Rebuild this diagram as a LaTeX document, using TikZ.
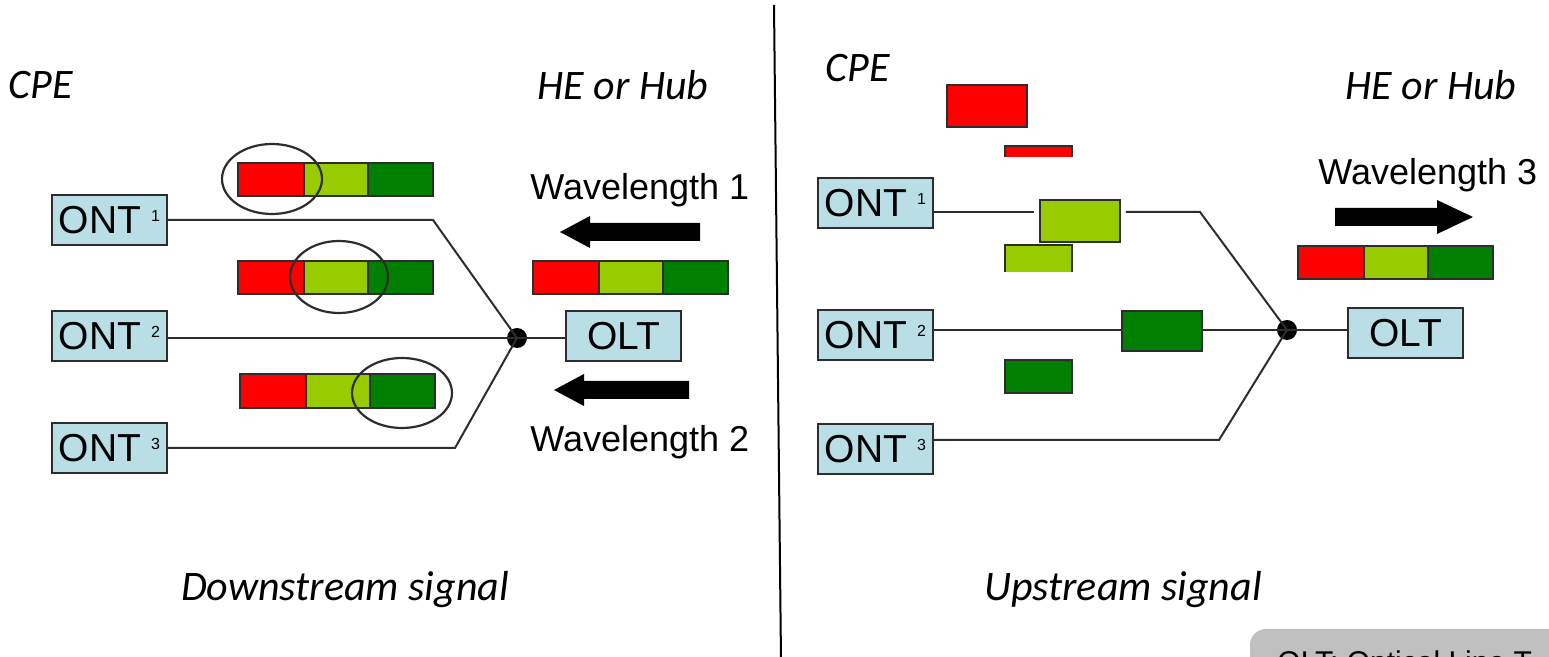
\documentclass[tikz,border=0pt]{standalone}
\usepackage{fontspec}
\setmainfont{Liberation Sans}
\newfontfamily\calibri{Carlito}
\definecolor{cred}{RGB}{255,0,0}
\definecolor{clight}{RGB}{153,204,0}
\definecolor{cdark}{RGB}{0,128,0}
\definecolor{cbox}{RGB}{185,222,230}
\definecolor{cline}{RGB}{45,45,45}
\definecolor{cgrey}{RGB}{192,192,192}
\tikzset{
  unit/.style={draw=cline,line width=0.9pt,fill=cbox,inner sep=0pt,minimum width=57.5pt,minimum height=25pt,font=\fontsize{19.5}{21}\selectfont},
  wire/.style={draw=cline,line width=1pt},
  blk/.style={draw=cline,line width=0.9pt},
  ring/.style={draw=cline,line width=1.1pt},
  cal/.style={font=\calibri\itshape\fontsize{21}{24}\selectfont,inner sep=0pt},
  wl/.style={font=\fontsize{18}{20}\selectfont,inner sep=0pt},
  dotn/.style={circle,fill=black,inner sep=0pt,minimum size=10pt}
}
\newcommand{\ontlabel}[1]{ONT\hspace{5pt}\raisebox{6pt}{\fontsize{8}{9}\selectfont #1}}
\newcommand{\cbar}[3]{% x-left, y-top, y-bottom ; width 195
  \fill[cred] (#1,#2) rectangle ++(66,#3-#2);
  \fill[clight] (#1+66,#2) rectangle ++(64,#3-#2);
  \fill[cdark] (#1+130,#2) rectangle ++(65,#3-#2);
  \draw[blk] (#1,#2) rectangle ++(195,#3-#2);
  \draw[blk] (#1+66,#2) -- (#1+66,#3) (#1+130,#2) -- (#1+130,#3);
}
\begin{document}
\begin{tikzpicture}[x=0.5pt,y=-0.5pt]
\useasboundingbox (0,0) rectangle (1549,657);
\clip (0,0) rectangle (1549,657);

% divider
\draw[line width=1pt,black] (774,5) -- (781,660);

% ================= LEFT PANEL =================
\node[cal,anchor=west] (cpeL) at (8,85) {CPE};
\node[cal,anchor=west] (heL) at (537,85) {HE or Hub};
\node[cal] (downL) at (345,590) {Downstream signal};

\node[unit] (ont1L) at (109.5,220) {\ontlabel{1}};
\node[unit] (ont2L) at (109.5,336) {\ontlabel{2}};
\node[unit] (ont3L) at (109.5,448) {\ontlabel{3}};
\node[unit] (oltL) at (623.5,336) {OLT};
\node[dotn] (dL) at (517,338) {};
\coordinate (c1L) at (433,220);
\coordinate (c3L) at (455,448);

\draw[wire] (ont1L.east) -- (c1L) -- (dL.center);
\draw[wire] (ont2L.east |- dL) -- (dL.center);
\draw[wire] (ont3L.east) -- (c3L) -- (dL.center);
\draw[wire] (dL.center) -- (oltL.west |- dL);

\cbar{238}{163}{196}
\cbar{238}{261}{294}
\cbar{240}{374}{408}
\draw[ring] (272,179) ellipse [x radius=50, y radius=35];
\draw[ring] (339,277) ellipse [x radius=49, y radius=36];
\draw[ring] (402,393) ellipse [x radius=50, y radius=35];

\node[wl,anchor=west] (wl1) at (530,190) {Wavelength 1};
\node[wl,anchor=west] (wl2) at (530,442) {Wavelength 2};
\cbar{533}{261}{294}
% arrows (filled shapes)
\fill[black] (700,223) -- (590,223) -- (590,216) -- (560,232) -- (590,248) -- (590,241) -- (700,241) -- cycle;
\fill[black] (689,381) -- (584,381) -- (584,374) -- (554,390) -- (584,406) -- (584,399) -- (689,399) -- cycle;

% ================= RIGHT PANEL =================
\node[cal,anchor=west] (cpeR) at (825,68) {CPE};
\node[cal,anchor=west] (heR) at (1345,85) {HE or Hub};
\node[cal] (upR) at (1123,590) {Upstream signal};

\node[unit] (ont1R) at (875.5,203) {\ontlabel{1}};
\node[unit] (ont2R) at (875.5,335) {\ontlabel{2}};
\node[unit] (ont3R) at (875.5,449) {\ontlabel{3}};
\node[unit] (oltR) at (1405.5,333) {OLT};
\node[dotn] (dR) at (1287,330) {};
\coordinate (c1R) at (1200,212);
\coordinate (c3R) at (1219,440);

% packets on lines
\node[blk,fill=clight,minimum width=40pt,minimum height=21pt,inner sep=0pt] (pkL) at (1080,221) {};
\node[blk,fill=cdark,minimum width=40pt,minimum height=20pt,inner sep=0pt] (pkD) at (1162,331) {};

\draw[wire] (ont1R.east |- c1R) -- ([xshift=-2.5pt]pkL.west |- c1R);
\draw[wire] ([xshift=2.5pt]pkL.east |- c1R) -- (c1R) -- (dR.center);
\draw[wire] (ont2R.east |- dR) -- (pkD.west |- dR);
\draw[wire] (pkD.east |- dR) -- (dR.center);
\draw[wire] (ont3R.east |- c3R) -- (c3R) -- (dR.center);
\draw[wire] (dR.center) -- (oltR.west |- dR);

% loose packets
\fill[cred] (947,85) rectangle (1027,127);
\draw[blk] (947,85) rectangle (1027,127);
\fill[cred] (1005,146) rectangle (1072,157);
\draw[blk] (1005,157) -- (1005,146) -- (1072,146) -- (1072,157);
\fill[clight] (1005,245) rectangle (1072,272);
\draw[blk] (1005,272) -- (1005,245) -- (1072,245) -- (1072,272);
\fill[cdark] (1005,360) rectangle (1072,393);
\draw[blk] (1005,360) rectangle (1072,393);

\node[wl,anchor=west] (wl3) at (1318,175) {Wavelength 3};
\cbar{1298}{246}{279}
\fill[black] (1335,208) -- (1437,208) -- (1437,200) -- (1473,217) -- (1437,234) -- (1437,226) -- (1335,226) -- cycle;

% footnote box (cut by page edge)
\fill[cgrey,rounded corners=8pt] (1250,629) rectangle (1600,720);
\node[anchor=base west,inner sep=0pt,font=\fontsize{15}{16}\selectfont] (foot) at (1277,673) {OLT: Optical Line T};
\end{tikzpicture}
\end{document}
